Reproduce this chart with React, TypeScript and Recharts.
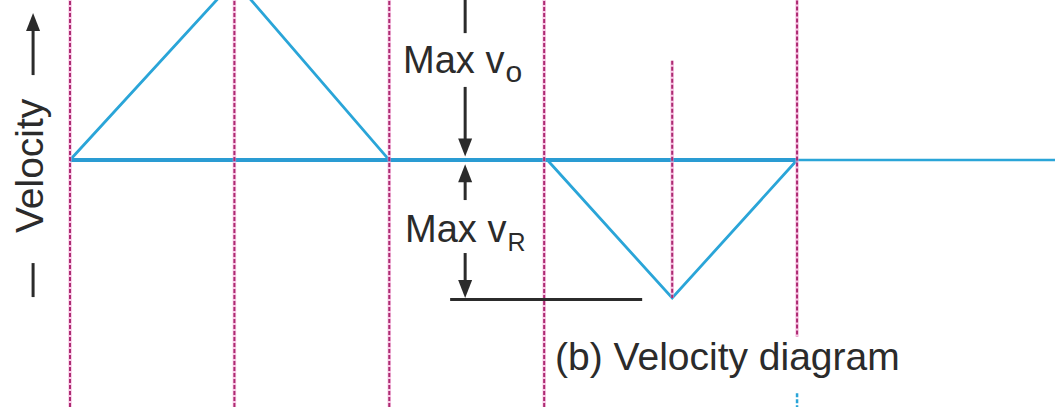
import { ComposedChart, Line, XAxis, YAxis, ReferenceLine, ReferenceDot, Scatter } from "recharts";

const W = 1055;
const H = 407;
const INK = "#2b2b2b";
const BLUE = "#2aa5d8";
const MAGENTA = "#ad2a72";
const PINK = "#f39ad0";
const FONT = "'Liberation Sans', Arial, Helvetica, sans-serif";

// time axis (one unit per stage) and velocity axis (1 = max return velocity)
const X_DOMAIN = [-0.443, 6.232];
const Y_DOMAIN = [-1.79, 1.16];

// stage boundaries drawn full height
const STAGES = [0, 1.04, 2.02, 3.0];

// follower velocity: outstroke triangle, dwell, return triangle
const OUTSTROKE = [
  { t: 0, v: 0 },
  { t: 1.04, v: 1.3 },
  { t: 2.02, v: 0 },
];
const RETURN = [
  { t: 3.02, v: 0 },
  { t: 3.81, v: -1 },
  { t: 4.6, v: 0 },
];
const AXIS_CYCLE = [
  { t: 0, v: 0 },
  { t: 4.6, v: 0 },
];
const AXIS_NEXT = [
  { t: 4.6, v: 0 },
  { t: 6.5, v: 0 },
];

// partial guide lines: [t, top, bottom]
const GUIDES = [
  [3.81, 0.72, -1],
  [4.6, 1.2, -1.28],
];

// dimension arrows for max velocities
const ARROW_T = 2.5;
const SHAFTS = [
  [0.92, 1.3],
  [0.53, 0.14],
  [-0.29, -0.14],
  [-0.674, -0.87],
];
const HEADS = [
  { t: ARROW_T, v: 1.29, dir: "up" },
  { t: ARROW_T, v: 0.025, dir: "down" },
  { t: ARROW_T, v: -0.03, dir: "up" },
  { t: ARROW_T, v: -1.0, dir: "down" },
];

const LABEL_VO = ["Max v", "o"];
const LABEL_VR = ["Max v", "R"];
const CAPTION = "(b) Velocity diagram";
const Y_TITLE = "Velocity";

const Head = (p: any) => {
  const { cx, cy, payload } = p;
  const s = payload.dir === "up" ? 1 : -1;
  return <path d={`M${cx},${cy} L${cx - 7},${cy + s * 18} L${cx + 7},${cy + s * 18} Z`} fill={INK} />;
};

const subLabel = (main: string, sub: string, subSize: number, subDy: number) => (props: any) => {
  const vb = props.viewBox;
  const x = vb.x + vb.width / 2;
  const y = vb.y + vb.height / 2;
  return (
    <text x={x} y={y} fill={INK} fontSize={38} fontFamily={FONT}>
      {main}
      <tspan fontSize={subSize} dy={subDy} dx={1}>{sub}</tspan>
    </text>
  );
};

const captionLabel = (props: any) => {
  const vb = props.viewBox;
  return (
    <text x={vb.x + vb.width / 2} y={vb.y + vb.height / 2} fill={INK} fontSize={39} fontFamily={FONT}>
      {CAPTION}
    </text>
  );
};

const yTitle = (props: any) => {
  const vb = props.viewBox;
  const cx = vb.x + vb.width / 2;
  const cy = vb.y + vb.height / 2;
  return (
    <g transform={`translate(${cx},${cy}) rotate(-90)`}>
      <line x1={-142} y1={4} x2={-108} y2={4} stroke={INK} strokeWidth={3} />
      <text x={-78} y={14} fill={INK} fontSize={39} fontFamily={FONT}>{Y_TITLE}</text>
      <line x1={80} y1={4} x2={128} y2={4} stroke={INK} strokeWidth={3} />
      <path d="M142,4 L124,-3 L124,11 Z" fill={INK} />
    </g>
  );
};

// pink halo under a dark dashed core
const halo = { stroke: PINK, strokeWidth: 3.5 };
const dash = { stroke: MAGENTA, strokeWidth: 2, strokeDasharray: "4 2" };

export default function App() {
  return (
    <div style={{ position: "absolute", left: 0, top: 0, width: W, height: H, background: "#fff" }}>
      <ComposedChart width={W} height={H} margin={{ top: 0, right: 0, bottom: 0, left: 0 }}>
        <XAxis type="number" dataKey="t" domain={X_DOMAIN} allowDataOverflow hide />
        <YAxis type="number" domain={Y_DOMAIN} allowDataOverflow hide />

        <Line data={AXIS_CYCLE} dataKey="v" stroke="#2a9cd3" strokeWidth={4} dot={false} activeDot={false} isAnimationActive={false} />
        <Line data={AXIS_NEXT} dataKey="v" stroke={BLUE} strokeWidth={2.5} dot={false} activeDot={false} isAnimationActive={false} />
        <Line data={OUTSTROKE} dataKey="v" stroke={BLUE} strokeWidth={2.8} dot={false} activeDot={false} strokeLinejoin="miter" isAnimationActive={false} />
        <Line data={RETURN} dataKey="v" stroke={BLUE} strokeWidth={2.8} dot={false} activeDot={false} strokeLinejoin="miter" isAnimationActive={false} />

        {STAGES.map((t) => (
          <ReferenceLine key={`h${t}`} x={t} {...halo} strokeOpacity={0.55} />
        ))}
        {STAGES.map((t) => (
          <ReferenceLine key={`d${t}`} x={t} {...dash} />
        ))}
        {GUIDES.map(([t, a, b]) => (
          <ReferenceLine key={`gh${t}`} segment={[{ x: t, y: a }, { x: t, y: b }]} {...halo} strokeOpacity={0.55} ifOverflow="hidden" />
        ))}
        {GUIDES.map(([t, a, b]) => (
          <ReferenceLine key={`gd${t}`} segment={[{ x: t, y: a }, { x: t, y: b }]} {...dash} ifOverflow="hidden" />
        ))}
        <ReferenceLine
          segment={[{ x: 4.6, y: -1.69 }, { x: 4.6, y: -1.85 }]}
          stroke={BLUE} strokeWidth={2.5} strokeDasharray="4 2" ifOverflow="hidden"
        />

        {SHAFTS.map(([a, b], i) => (
          <ReferenceLine
            key={i}
            segment={[{ x: ARROW_T, y: a }, { x: ARROW_T, y: b }]}
            stroke={INK} strokeWidth={3} ifOverflow="hidden"
          />
        ))}
        <ReferenceLine
          segment={[{ x: 2.405, y: -1.01 }, { x: 3.62, y: -1.01 }]}
          stroke={INK} strokeWidth={3} ifOverflow="hidden"
        />
        <Scatter data={HEADS} dataKey="v" shape={Head} isAnimationActive={false} />

        <ReferenceDot x={2.107} y={0.63} r={1} fill="none" stroke="none" label={subLabel(LABEL_VO[0], LABEL_VO[1], 30, 9)} />
        <ReferenceDot x={2.12} y={-0.594} r={1} fill="none" stroke="none" label={subLabel(LABEL_VR[0], LABEL_VR[1], 25, 9)} />
        <ReferenceDot x={3.069} y={-1.522} r={1} fill="none" stroke="none" label={captionLabel} />
        <ReferenceDot x={-0.259} y={0.036} r={1} fill="none" stroke="none" label={yTitle} />
      </ComposedChart>
    </div>
  );
}
